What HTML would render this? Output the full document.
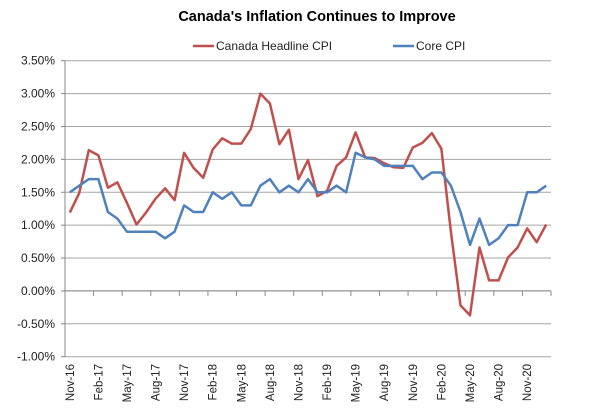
<!DOCTYPE html>
<html><head><meta charset="utf-8"><style>
body{margin:0;background:#fff;width:600px;height:411px;overflow:hidden}
svg{font-family:"Liberation Sans",Arial,sans-serif}
</style></head><body>
<svg id="chart" width="600" height="411">
<text x="317" y="21" text-anchor="middle" font-size="14.5" font-weight="bold" fill="#000">Canada's Inflation Continues to Improve</text>
<g>
<g><line x1="193" y1="46" x2="214" y2="46" stroke="#C0504D" stroke-width="2.5"/><text x="216" y="50" font-size="12" fill="#222">Canada Headline CPI</text></g>
<g><line x1="393" y1="46" x2="414" y2="46" stroke="#4F81BD" stroke-width="2.5"/><text x="416" y="50" font-size="12" fill="#222">Core CPI</text></g>
</g>
<g id="grid"></g>
<g id="yaxis"></g>
<g id="xaxis"></g>
<g id="series"></g>
</svg>
<script>
const months=["Nov-16","Dec-16","Jan-17","Feb-17","Mar-17","Apr-17","May-17","Jun-17","Jul-17","Aug-17","Sep-17","Oct-17","Nov-17","Dec-17","Jan-18","Feb-18","Mar-18","Apr-18","May-18","Jun-18","Jul-18","Aug-18","Sep-18","Oct-18","Nov-18","Dec-18","Jan-19","Feb-19","Mar-19","Apr-19","May-19","Jun-19","Jul-19","Aug-19","Sep-19","Oct-19","Nov-19","Dec-19","Jan-20","Feb-20","Mar-20","Apr-20","May-20","Jun-20","Jul-20","Aug-20","Sep-20","Oct-20","Nov-20","Dec-20","Jan-21"];
const headline=[1.19,1.49,2.14,2.06,1.57,1.65,1.34,1.01,1.19,1.40,1.56,1.38,2.10,1.87,1.72,2.15,2.32,2.24,2.24,2.46,3.0,2.85,2.23,2.45,1.7,1.99,1.44,1.52,1.9,2.03,2.41,2.03,2.02,1.94,1.88,1.87,2.18,2.25,2.4,2.16,0.9,-0.22,-0.37,0.66,0.16,0.16,0.51,0.66,0.95,0.74,1.01];
const core=[1.5,1.6,1.7,1.7,1.2,1.1,0.9,0.9,0.9,0.9,0.8,0.9,1.3,1.2,1.2,1.5,1.4,1.5,1.3,1.3,1.6,1.7,1.5,1.6,1.5,1.7,1.5,1.5,1.6,1.5,2.1,2.03,2.0,1.9,1.9,1.9,1.9,1.7,1.8,1.8,1.6,1.2,0.7,1.1,0.7,0.8,1.0,1.0,1.5,1.5,1.6];
const yTicks=[3.5,3.0,2.5,2.0,1.5,1.0,0.5,0.0,-0.5,-1.0];
const xLabelEvery=3;
const L=65,R=551,T=60.7,B=356.7,yMax=3.5,yMin=-1.0;
const NS="http://www.w3.org/2000/svg";
const step=(R-L)/months.length;
const xs=i=>L+step*(i+0.5);
const ys=v=>T+(yMax-v)/(yMax-yMin)*(B-T);
function mk(tag,attrs,parent){const e=document.createElementNS(NS,tag);for(const k in attrs)e.setAttribute(k,attrs[k]);parent.appendChild(e);return e;}
const grid=document.getElementById('grid'),ya=document.getElementById('yaxis'),xa=document.getElementById('xaxis'),se=document.getElementById('series');
yTicks.forEach(v=>{
  const y=ys(v);
  const g=mk('line',{x1:L,x2:R,y1:y,y2:y,stroke:'#a6a6a6','stroke-width':1},grid);
  
  
  mk('line',{x1:L-4,x2:L,y1:y,y2:y,stroke:'#888'},ya);
  const t=mk('text',{x:55,y:y+4,'text-anchor':'end','font-size':12,fill:'#222'},ya);
  t.textContent=v.toFixed(2)+'%';
  
  
});
mk('line',{x1:L,x2:L,y1:T,y2:B,stroke:'#888'},ya);
const y0=ys(0);
mk('line',{x1:L,x2:R,y1:y0,y2:y0,stroke:'#888'},xa);
months.forEach((m,i)=>{
  if(i%xLabelEvery===0){
    const tx=L+step*i;
    mk('line',{x1:tx,x2:tx,y1:y0,y2:y0+5,stroke:'#888'},xa);
    const x=xs(i)+4;
    const t=mk('text',{x:x,y:364,'text-anchor':'end','font-size':11.5,fill:'#222',transform:`rotate(-90 ${x} 364)`},xa);
    t.textContent=m;
    
    
  }
});
mk('line',{x1:R,x2:R,y1:y0,y2:y0+5,stroke:'#888'},xa);
function line(data,color,name){
  const p=mk('polyline',{points:data.map((v,i)=>xs(i).toFixed(1)+','+ys(v).toFixed(1)).join(' '),fill:'none',stroke:color,'stroke-width':2.5,'stroke-linejoin':'round'},se);
  
  
}
line(headline,'#C0504D','headline-cpi-line');
line(core,'#4F81BD','core-cpi-line');
</script>
</body></html>
